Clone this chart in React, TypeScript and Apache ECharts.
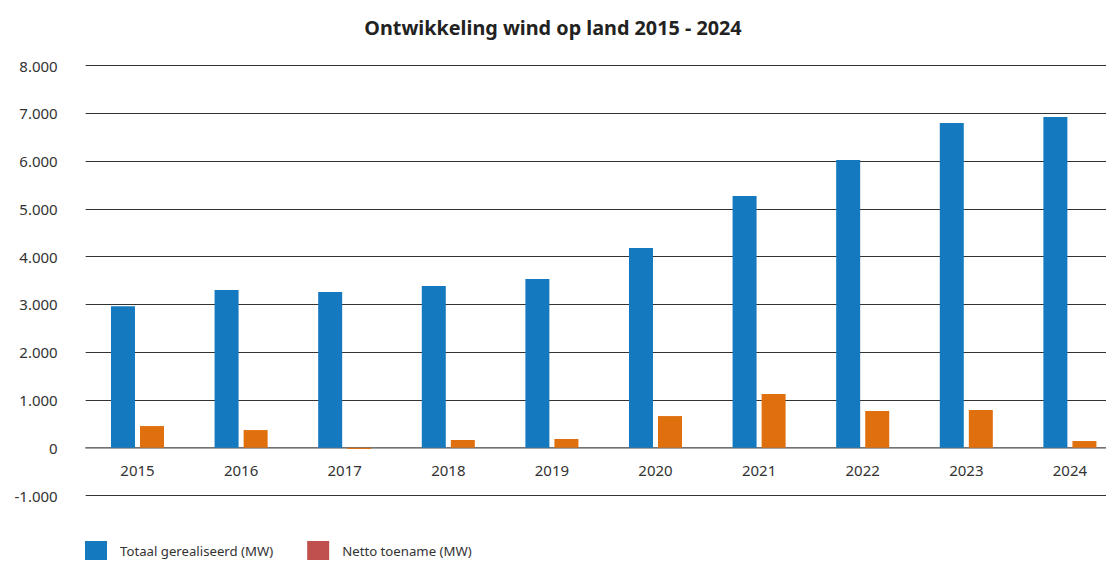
import React, { useEffect, useRef } from "react";
import * as echarts from "echarts";

const years = ["2015", "2016", "2017", "2018", "2019", "2020", "2021", "2022", "2023", "2024"];
const totaal = [2962, 3301, 3259, 3386, 3533, 4180, 5269, 6023, 6797, 6923];
const netto = [454, 370, -25, 162, 183, 663, 1124, 768, 789, 140];
const yTicks = { min: -1000, max: 8000, interval: 1000 };

const fmt = (v: number) => {
  const s = Math.abs(v).toString().replace(/\B(?=(\d{3})+(?!\d))/g, ".");
  return (v < 0 ? "-" : "") + s;
};

export default function App() {
  const ref = useRef<HTMLDivElement>(null);
  useEffect(() => {
    if (!ref.current) return;
    const chart = echarts.init(ref.current, null, { renderer: "svg" });
    const font = "'Noto Sans', sans-serif";
    chart.setOption({
      animation: false,
      textStyle: { fontFamily: font },
      title: {
        text: "Ontwikkeling wind op land 2015 - 2024",
        left: "center",
        top: 12,
        textStyle: { fontFamily: font, fontSize: 19.8, fontWeight: "bold", color: "#222" },
      },
      grid: { left: 85.7, width: 1036, top: 65.6, bottom: 65.5, outerBoundsMode: "none", containLabel: false },
      legend: {
        left: 85,
        top: 541,
        padding: 0,
        itemWidth: 22,
        itemHeight: 19,
        itemGap: 34,
        textStyle: { fontFamily: font, fontSize: 13.2, color: "#333", padding: [0, 0, 0, 8] },
        data: [
          { name: "Totaal gerealiseerd (MW)", icon: "rect", itemStyle: { color: "#1479be" } },
          { name: "Netto toename (MW)", icon: "rect", itemStyle: { color: "#c0504d" } },
        ],
      },
      xAxis: {
        type: "category",
        data: years,
        offset: -47.8,
        axisLine: { onZero: false, lineStyle: { color: "#888", width: 1.5 } },
        axisTick: { show: false },
        axisLabel: { fontSize: 15, color: "#333", margin: 15, fontFamily: font },
      },
      yAxis: {
        type: "value",
        ...yTicks,
        axisLine: { show: false },
        axisTick: { show: false },
        splitLine: { lineStyle: { color: "#333", width: 1 } },
        axisLabel: { fontSize: 15, color: "#333", margin: 28, formatter: fmt, fontFamily: font },
      },
      series: [
        {
          name: "Totaal gerealiseerd (MW)",
          type: "bar",
          data: totaal,
          barWidth: 24,
          barGap: "21%",
          itemStyle: { color: "#1479be" },
        },
        {
          name: "Netto toename (MW)",
          type: "bar",
          data: netto,
          barWidth: 24,
          itemStyle: { color: "#e0700e" },
        },
      ],
    });
    return () => chart.dispose();
  }, []);
  return (
    <div
      ref={ref}
      style={{ position: "fixed", left: 0, top: 0, width: 1106, height: 561, background: "#fff", overflow: "hidden" }}
    />
  );
}
